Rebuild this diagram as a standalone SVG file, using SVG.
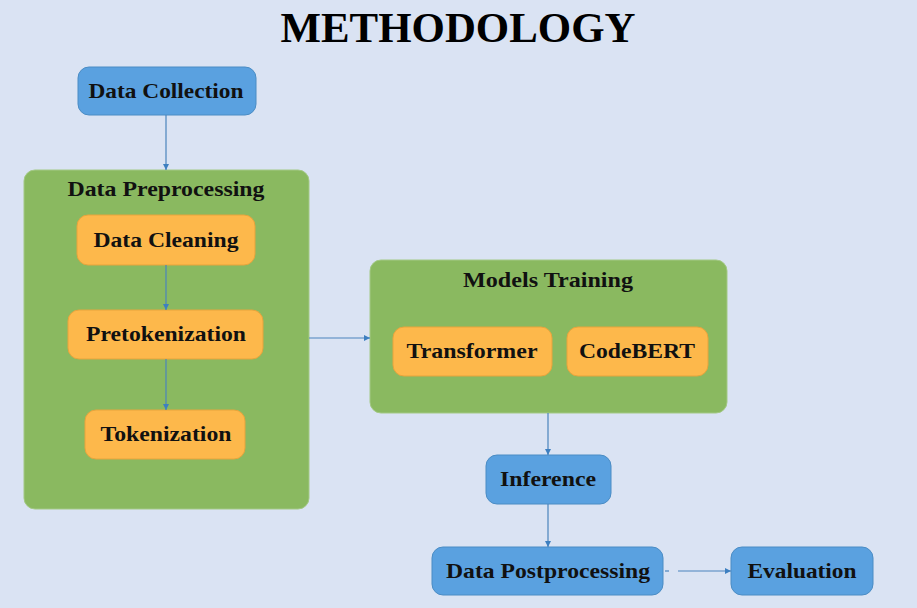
<svg xmlns="http://www.w3.org/2000/svg" width="917" height="608" viewBox="0 0 917 608">
<style>
.t{font-family:"Liberation Serif","Times New Roman",serif;font-weight:bold;fill:#111;text-anchor:middle;font-size:21px}
.blue{fill:#5aa1e0;stroke:#4a8cc4;stroke-width:1}
.green{fill:#8ab960;stroke:#a3c985;stroke-width:1}
.orange{fill:#fdb84b;stroke:#e7a43c;stroke-width:1}
.c{stroke:#4a84bd;stroke-width:1.2;fill:none;marker-end:url(#ah)}
</style>
<defs>
<marker id="ah" viewBox="0 0 10 10" refX="10" refY="5" markerWidth="6" markerHeight="6" markerUnits="userSpaceOnUse" orient="auto">
<path d="M0,0 L10,5 L0,10 z" fill="#3d7fc0"/>
</marker>
</defs>
<rect width="917" height="608" fill="#dae3f3"/>
<text x="458" y="42" style="font-family:'Liberation Serif','Times New Roman',serif;font-weight:bold;font-size:42px;fill:#000;text-anchor:middle" textLength="355" lengthAdjust="spacingAndGlyphs">METHODOLOGY</text>

<g id="data-collection">
<rect class="blue" x="78" y="67" width="178" height="48" rx="11"/>
<text class="t" x="166" y="98" textLength="155" lengthAdjust="spacingAndGlyphs">Data Collection</text>
</g>

<g id="data-preprocessing">
<rect class="green" x="24" y="170" width="285" height="339" rx="11"/>
<text class="t" x="166" y="196" textLength="197" lengthAdjust="spacingAndGlyphs">Data Preprocessing</text>
</g>
<g id="data-cleaning">
<rect class="orange" x="77" y="215" width="178" height="50" rx="11"/>
<text class="t" x="166" y="247" textLength="145" lengthAdjust="spacingAndGlyphs">Data Cleaning</text>
</g>
<g id="pretokenization">
<rect class="orange" x="68" y="310" width="195" height="49" rx="11"/>
<text class="t" x="166" y="341" textLength="160" lengthAdjust="spacingAndGlyphs">Pretokenization</text>
</g>
<g id="tokenization">
<rect class="orange" x="85" y="410" width="160" height="49" rx="11"/>
<text class="t" x="166" y="441" textLength="131" lengthAdjust="spacingAndGlyphs">Tokenization</text>
</g>

<g id="models-training">
<rect class="green" x="370" y="260" width="357" height="153" rx="11"/>
<text class="t" x="548" y="287" textLength="170" lengthAdjust="spacingAndGlyphs">Models Training</text>
</g>
<g id="transformer">
<rect class="orange" x="393" y="327" width="159" height="49" rx="11"/>
<text class="t" x="472" y="358" textLength="131" lengthAdjust="spacingAndGlyphs">Transformer</text>
</g>
<g id="codebert">
<rect class="orange" x="567" y="327" width="141" height="49" rx="11"/>
<text class="t" x="637" y="358" textLength="116" lengthAdjust="spacingAndGlyphs">CodeBERT</text>
</g>

<g id="inference">
<rect class="blue" x="486" y="455" width="125" height="49" rx="11"/>
<text class="t" x="548" y="486" textLength="96" lengthAdjust="spacingAndGlyphs">Inference</text>
</g>
<g id="data-postprocessing">
<rect class="blue" x="432" y="547" width="231" height="48" rx="11"/>
<text class="t" x="548" y="578" textLength="204" lengthAdjust="spacingAndGlyphs">Data Postprocessing</text>
</g>
<g id="evaluation">
<rect class="blue" x="731" y="547" width="142" height="48" rx="11"/>
<text class="t" x="802" y="578" textLength="109" lengthAdjust="spacingAndGlyphs">Evaluation</text>
</g>

<g id="connectors">
<line class="c" x1="166" y1="115" x2="166" y2="170"/>
<line class="c" x1="166" y1="265" x2="166" y2="310"/>
<line class="c" x1="166" y1="359" x2="166" y2="410"/>
<line class="c" x1="309" y1="338" x2="370" y2="338"/>
<line class="c" x1="548" y1="413" x2="548" y2="455"/>
<line class="c" x1="548" y1="504" x2="548" y2="547"/>
<line x1="665" y1="571" x2="669" y2="571" stroke="#4a84bd" stroke-width="1.2"/>
<line class="c" x1="678" y1="571" x2="731" y2="571"/>
</g>
</svg>
